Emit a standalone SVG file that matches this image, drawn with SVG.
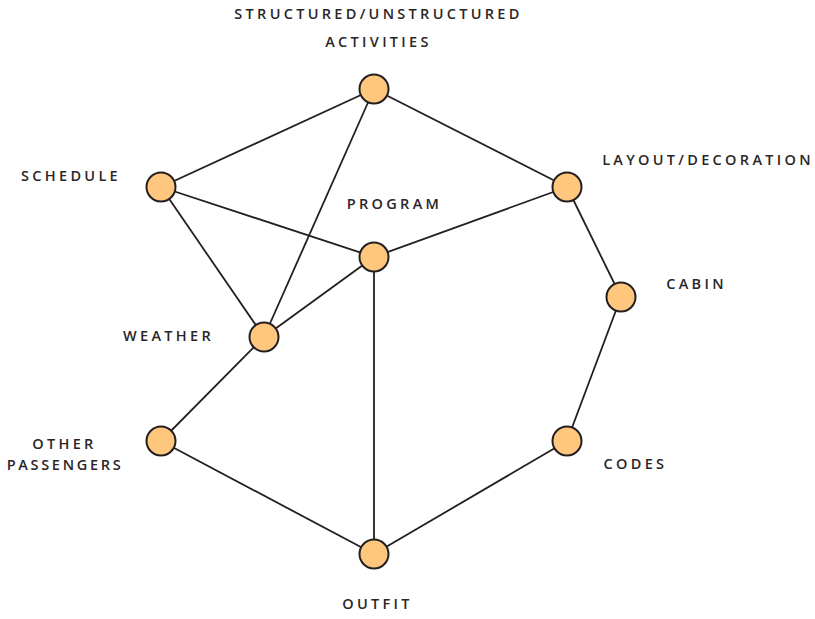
<svg xmlns="http://www.w3.org/2000/svg" width="815" height="619" viewBox="0 0 815 619">
<style>
.n{fill:#FFC77D;stroke:#231F20;stroke-width:2}
.e{stroke:#231F20;stroke-width:1.8;fill:none}
.t{font-family:"Open Sans","DejaVu Sans",sans-serif;font-size:14.5px;font-weight:600;letter-spacing:3.3px;fill:#2a2627;text-anchor:middle}
</style>
<rect width="815" height="619" fill="#fff"/>
<g id="connectors">
<line class="e" x1="374" y1="89" x2="567" y2="187"/>
<line class="e" x1="374" y1="89" x2="161" y2="187"/>
<line class="e" x1="374" y1="89" x2="264" y2="337"/>
<line class="e" x1="161" y1="187" x2="374" y2="257"/>
<line class="e" x1="161" y1="187" x2="264" y2="337"/>
<line class="e" x1="374" y1="257" x2="567" y2="187"/>
<line class="e" x1="374" y1="257" x2="264" y2="337"/>
<line class="e" x1="374" y1="257" x2="374" y2="554"/>
<line class="e" x1="567" y1="187" x2="621" y2="297"/>
<line class="e" x1="621" y1="297" x2="567" y2="441"/>
<line class="e" x1="567" y1="441" x2="374" y2="554"/>
<line class="e" x1="374" y1="554" x2="161" y2="441"/>
<line class="e" x1="161" y1="441" x2="264" y2="337"/>
</g>
<g id="activities"><circle class="n" cx="374" cy="89" r="14.5"/><text class="t" x="378.5" y="19">STRUCTURED/UNSTRUCTURED</text><text class="t" x="378.5" y="47">ACTIVITIES</text></g>
<g id="layout"><circle class="n" cx="567" cy="187" r="14.5"/><text class="t" x="708" y="165">LAYOUT/DECORATION</text></g>
<g id="cabin"><circle class="n" cx="621" cy="297" r="14.5"/><text class="t" x="696.5" y="289">CABIN</text></g>
<g id="codes"><circle class="n" cx="567" cy="441" r="14.5"/><text class="t" x="635.5" y="469">CODES</text></g>
<g id="outfit"><circle class="n" cx="374" cy="554" r="14.5"/><text class="t" x="377.5" y="609">OUTFIT</text></g>
<g id="other"><circle class="n" cx="161" cy="441" r="14.5"/><text class="t" x="64.5" y="449">OTHER</text><text class="t" x="65" y="470" style="letter-spacing:2.7px">PASSENGERS</text></g>
<g id="weather"><circle class="n" cx="264" cy="337" r="14.5"/><text class="t" x="168.5" y="341">WEATHER</text></g>
<g id="schedule"><circle class="n" cx="161" cy="187" r="14.5"/><text class="t" x="71" y="181">SCHEDULE</text></g>
<g id="program"><circle class="n" cx="374" cy="257" r="14.5"/><text class="t" x="394.5" y="209">PROGRAM</text></g>
</svg>
